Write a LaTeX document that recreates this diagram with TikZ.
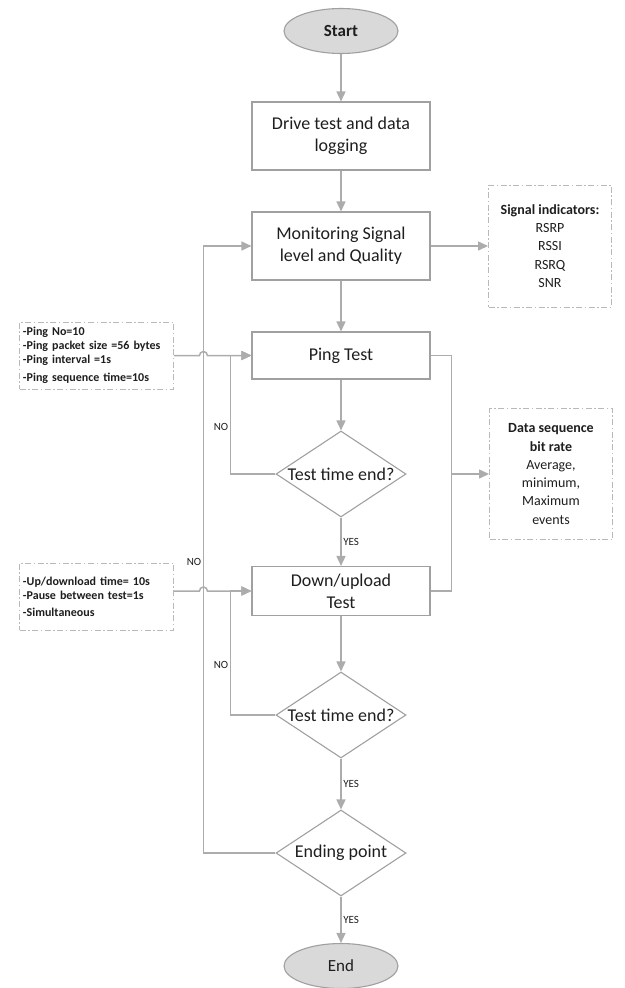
\documentclass[tikz,border=0pt]{standalone}
\usepackage{fontspec}
\setmainfont{Carlito}
\usetikzlibrary{shapes,arrows.meta}
\definecolor{lgray}{RGB}{172,172,172}
\definecolor{bgray}{RGB}{160,160,160}
\definecolor{dgray}{RGB}{185,185,185}
\definecolor{efill}{RGB}{217,217,217}
\definecolor{txt}{RGB}{30,30,30}
\tikzstyle{line} = [draw, -{Triangle[length=10pt, width=9pt]}, color=lgray, line width=1.5pt]
\tikzstyle{wire} = [draw, color=lgray, line width=1.5pt]
\tikzstyle{block} = [rectangle, draw=bgray, line width=1.1pt, text=txt,
  minimum width=178pt, inner ysep=2pt, align=center, font=\fontsize{18}{22}\selectfont]
\tikzstyle{decision} = [diamond, draw=bgray, line width=1.1pt,
  minimum width=130pt, minimum height=86pt, inner sep=0pt]
\tikzstyle{dtext} = [text=txt, font=\fontsize{18}{22}\selectfont]
\tikzstyle{terminal} = [ellipse, draw=bgray, fill=efill, line width=1.1pt, text=txt,
  minimum width=114pt, minimum height=45pt, font=\fontsize{17}{20}\selectfont]
\tikzstyle{note} = [rectangle, draw=dgray, line width=1pt,
  dash pattern=on 6pt off 2.5pt on 1.5pt off 2.5pt, text=txt, align=left,
  text width=147pt, minimum height=67pt, font=\bfseries\fontsize{12}{14}\selectfont]
\tikzstyle{infobox} = [rectangle, draw=dgray, line width=1pt,
  dash pattern=on 6pt off 2.5pt on 1.5pt off 2.5pt, text=txt, align=center,
  minimum width=123pt, font=\fontsize{14}{18.3}\selectfont]
\tikzstyle{yesno} = [fill=white, text=txt, inner sep=1.5pt, font=\fontsize{11}{13}\selectfont]

\begin{document}
\begin{tikzpicture}[node distance=110pt, auto]
  \useasboundingbox (0,0) rectangle (624pt,-988pt);

  \node [terminal, font=\bfseries\fontsize{17}{20}\selectfont] (start) at (341pt,-31pt) {Start};
  \node [block, below of=start, node distance=105pt, minimum height=68pt] (drive) {Drive test and data\\logging};
  \node [block, below of=drive, minimum height=68pt] (monitor) {Monitoring Signal\\level and Quality};
  \node [block, below of=monitor, node distance=109.5pt, minimum height=47pt] (ping) {Ping Test};
  \node [decision, below of=ping, node distance=118.5pt, label={[dtext]center:Test time end?}] (check1) {};
  \node [block, below of=check1, node distance=117pt, minimum height=49pt] (updown) {Down/upload\\Test};
  \node [decision, below of=updown, node distance=124pt, label={[dtext]center:Test time end?}] (check2) {};
  \node [decision, below of=check2, node distance=138pt, label={[dtext]center:Ending point}] (ending) {};
  \node [terminal, below of=ending, node distance=113pt] (end) {End};

  \node [infobox, right of=monitor, node distance=209pt, minimum height=122pt] (signal)
    {\textbf{Signal indicators:}\\RSRP\\RSSI\\RSRQ\\SNR};
  \node [infobox, right of=check1, node distance=210pt, minimum height=131pt] (data)
    {\textbf{Data sequence}\\\textbf{bit rate}\\Average,\\minimum,\\Maximum\\events};

  \node [note, left of=ping, node distance=244.5pt] (pingnote)
    {-Ping No=10\\-Ping packet size =56 bytes\\-Ping interval =1s\\[4pt]-Ping sequence time=10s};
  \node [note, below of=pingnote, node distance=241pt] (loadnote)
    {-Up/download time= 10s\\-Pause between test=1s\\[3pt]-Simultaneous};

  % loop and bus points
  \coordinate (nobus) at ([xshift=-21pt]ping.west);
  \coordinate (bigbus) at ([xshift=-48pt]monitor.west);
  \coordinate (rbus) at ([xshift=21pt]ping.east);
  \coordinate (hop1) at (bigbus |- ping.west);
  \coordinate (hop2) at (bigbus |- updown.west);

  \path [line] (start) -- (drive);
  \path [line] (drive) -- (monitor);
  \path [line] (monitor) -- (ping);
  \path [line] (ping) -- (check1);
  \path [line] (check1) -- node [yesno] {YES} (updown);
  \path [line] (updown) -- (check2);
  \path [line] (check2) -- node [yesno] {YES} (ending);
  \path [line] (ending) -- node [yesno] {YES} (end);
  \path [line] (monitor) -- (signal);

  \path [line] (check1.west) -| node [yesno, pos=0.7] {NO} (nobus) -- (ping.west);
  \path [line] (check2.west) -| node [yesno, pos=0.7] {NO} (nobus |- updown.west) -- (updown.west);
  \path [line] (ending.west) -| node [yesno, pos=0.74] {NO} (bigbus) -- (monitor.west);

  \path [line] (pingnote.east |- ping.west) -- ([xshift=-4pt]hop1)
    arc [start angle=180, end angle=0, radius=4pt] -- (ping.west);
  \path [line] (loadnote.east |- updown.west) -- ([xshift=-4pt]hop2)
    arc [start angle=180, end angle=0, radius=4pt] -- (updown.west);

  \path [wire] (ping.east) -- (rbus) |- (updown.east);
  \path [line] (rbus |- data.west) -- (data.west);

\end{tikzpicture}
\end{document}
